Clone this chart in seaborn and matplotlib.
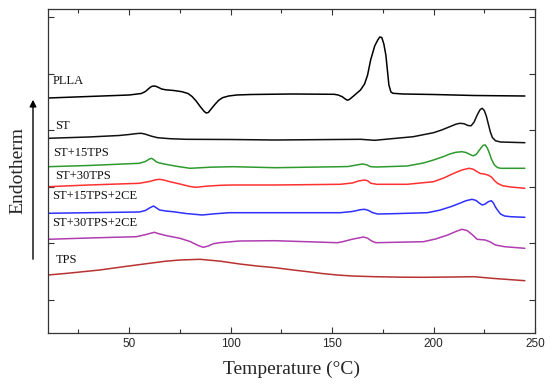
import pandas as pd
import numpy as np
import matplotlib
matplotlib.use("Agg")
import matplotlib.pyplot as plt
from matplotlib.ticker import MultipleLocator, FixedLocator
import seaborn as sns

# DSC heating curves, heat flow in arbitrary units (offset stacked)
pla_t = [10, 30, 50, 56, 58, 60, 61, 62, 63, 64, 65, 66, 68, 72, 76, 79, 81, 83, 85, 87,
         88, 89, 90, 92, 94, 96, 99, 103, 110, 130, 151, 153, 155, 156.5, 157.5, 158.5,
         160, 162, 164, 166, 167.5, 169, 171, 172.5, 173.5, 174.5, 175.5, 176.5, 177.3,
         178, 179, 180, 185, 200, 220, 245]
pla_h = [235, 236.5, 238, 239.5, 241.5, 245, 246.5, 247, 246.8, 246, 245, 244, 243.2,
         242.5, 241.3, 239.5, 236.5, 232, 226.5, 221.5, 220, 220.5, 223, 228, 232.5, 235.3,
         237, 238, 238.5, 239, 238.7, 238, 236.3, 234, 232.8, 233.5, 236, 239.5, 243, 249,
         258, 273, 287, 293, 296, 295.5, 289, 278, 262, 248, 241, 239.7, 239, 238.5, 237.5,
         237]

st_t = [10, 30, 45, 50, 54, 56, 58, 61, 64, 70, 78, 100, 122, 164, 171, 190, 200, 204,
        208, 211, 213, 215, 217, 218.5, 220, 221.5, 223, 224, 225, 226, 227, 228, 229,
        230.5, 233, 245]
st_h = [194.7, 196, 197.5, 198.5, 199.5, 199.7, 198.8, 196.8, 195.3, 194.3, 193.7, 193.5,
        193, 193.7, 192.7, 196.3, 200.3, 203, 206.3, 208.8, 209.7, 209.3, 207.5, 207.2,
        211, 218, 223.5, 224.7, 222.5, 217, 209, 201, 195.5, 192.3, 191, 190.3]

st15_t = [10, 30, 55, 58, 60, 61, 62, 63.5, 65, 68, 74, 80, 90, 101, 122, 154, 158, 162,
          165, 167, 169, 172, 187, 195, 200, 205, 208, 211, 214, 216, 218, 219.5, 221, 223,
          224.5, 225.5, 226.5, 227.5, 228.5, 230, 231.5, 233, 245]
st15_h = [166.3, 167.5, 169.7, 171.5, 174, 174.7, 173.5, 171, 170, 168.7, 166.5, 164.7,
          165.8, 166.3, 165.3, 166.3, 166.5, 168, 169, 168.2, 166.3, 166, 167, 170, 173,
          176.5, 179, 180.7, 181.3, 180.5, 178.5, 177.2, 178.5, 184, 187.8, 188, 185, 180,
          174, 168, 165.5, 164.7, 164.7]

st30_t = [10, 30, 55, 60, 63, 65, 67, 70, 75, 80, 83, 88, 95, 101, 122, 154, 160, 163,
          166, 167.5, 169, 172, 187, 200, 205, 210, 214, 217.5, 219.5, 221.5, 223, 225,
          227, 228.5, 230, 231.5, 234, 238, 245]
st30_h = [146.3, 148, 149.7, 151.5, 153.2, 153.7, 153, 151.3, 149, 146.5, 145.7, 146.8,
          147.7, 148, 148, 148.7, 150, 152, 153, 152.3, 149.8, 148.7, 148.7, 151.3, 155,
          159.7, 163, 164.7, 163.8, 161.3, 159.5, 159, 157.8, 156, 152.5, 149.7, 147.3, 146,
          144.7]

st15ce_t = [10, 30, 55, 58, 60, 62, 63.5, 65, 68, 71.5, 78, 86, 92, 99.5, 122, 154, 160,
            164, 166, 168, 170, 172.5, 180, 197, 203, 208.5, 213, 216, 219, 221, 222.5,
            224, 225.5, 227, 228.5, 229.5, 230.5, 231.5, 233, 235, 238, 245]
st15ce_h = [119.7, 120.3, 121, 122.5, 125, 127, 125, 123, 122, 121.3, 119.5, 118, 119.2,
            120.3, 120.3, 120.3, 121.5, 123.3, 123.7, 122.5, 120.3, 119, 119.3, 120.3, 122.8,
            126.3, 129.8, 132.3, 133.7, 132.5, 130, 128, 129, 131.3, 132.3, 130, 126, 123,
            119, 117, 116.3, 115.7]

st30ce_t = [10, 30, 53.5, 58, 61, 62.5, 64, 68, 75, 80, 84, 86.5, 89, 91.5, 94.5, 104.5,
            122, 152.5, 155, 160, 165.5, 167.5, 169.5, 171.5, 195, 201, 207, 211, 214,
            216.5, 219, 221.5, 225.5, 228, 230.5, 235, 245]
st30ce_h = [93.7, 95, 96.3, 98.3, 100, 100.7, 99.6, 97.5, 94.7, 91.5, 87.5, 85.7, 87,
            89.3, 90.3, 92, 92.3, 90.3, 91.2, 93.8, 96, 94.8, 92, 90.3, 91.3, 94, 98, 101.5,
            103.7, 102.5, 98.5, 93.7, 93, 91, 88, 86.3, 84.7]

tps_t = [10, 20, 35.5, 48, 60, 68, 75, 85, 95, 104.5, 113, 122, 130, 138, 145, 152.5,
         160, 171, 185, 195, 210, 220, 230, 245]
tps_h = [58, 59.8, 63, 66.5, 69.7, 71.8, 73, 73.7, 71.8, 69, 67, 65.3, 63.2, 61.3, 59.5,
         58, 57, 56.3, 55.8, 55.7, 56, 56.3, 54.5, 52.3]

names = ['PLLA', 'ST', 'ST+15TPS', 'ST+30TPS', 'ST+15TPS+2CE', 'ST+30TPS+2CE', 'TPS']
colors = ['#000000', '#111111', '#2e9a2e', '#ff3030', '#2f2fff', '#b03cb0', '#b83232']
label_h = [252, 207, 180, 157, 137, 110, 73]
label_t = [12.5, 13.4, 12.5, 13.4, 11.8, 11.8, 14]

series = [(pla_t, pla_h), (st_t, st_h), (st15_t, st15_h), (st30_t, st30_h),
          (st15ce_t, st15ce_h), (st30ce_t, st30ce_h), (tps_t, tps_h)]

sns.set_style("ticks")
plt.rcParams['font.family'] = ['Liberation Sans', 'DejaVu Sans']
plt.rcParams['xtick.direction'] = 'in'
plt.rcParams['ytick.direction'] = 'in'

fig = plt.figure(figsize=(5.5, 3.91), dpi=100)
ax = fig.add_axes([48 / 550, 1 - 333 / 391, (535 - 48) / 550, (333 - 9) / 391])

for i, (t, h) in enumerate(series):
    df = pd.DataFrame({'T': t, 'h': h})
    sns.lineplot(data=df, x='T', y='h', color=colors[i], linewidth=1.1, ax=ax,
                 estimator=None, sort=False)
    ax.text(label_t[i], label_h[i], names[i], family='Liberation Serif', fontsize=9,
            va='center', ha='left', color='#111111')

ax.set_xlim(10, 250)
ax.set_ylim(0, 324)
ax.xaxis.set_major_locator(FixedLocator([50, 100, 150, 200, 250]))
ax.xaxis.set_minor_locator(MultipleLocator(25))
ax.yaxis.set_major_locator(FixedLocator([33 + 56.6 * k for k in range(6)]))
ax.tick_params(axis='both', which='both', top=True, right=True, labelsize=8.5,
               width=0.8, color='#333333')
ax.tick_params(which='major', length=4)
ax.tick_params(which='minor', length=3)
ax.set_yticklabels([])
for s in ax.spines.values():
    s.set_linewidth(0.9)
    s.set_color('#333333')

ax.set_xlabel('Temperature (°C)', family='Liberation Serif', fontsize=14, labelpad=8)
ax.set_ylabel('Endotherm', family='Liberation Serif', fontsize=14, labelpad=12)

# arrow next to the y label
fig.add_artist(matplotlib.patches.FancyArrowPatch(
    (33 / 550, 1 - 262 / 391), (33 / 550, 1 - 97 / 391), transform=fig.transFigure,
    arrowstyle='-|>', mutation_scale=10, color='black', linewidth=1.0))

fig.savefig('out.png', dpi=100)
